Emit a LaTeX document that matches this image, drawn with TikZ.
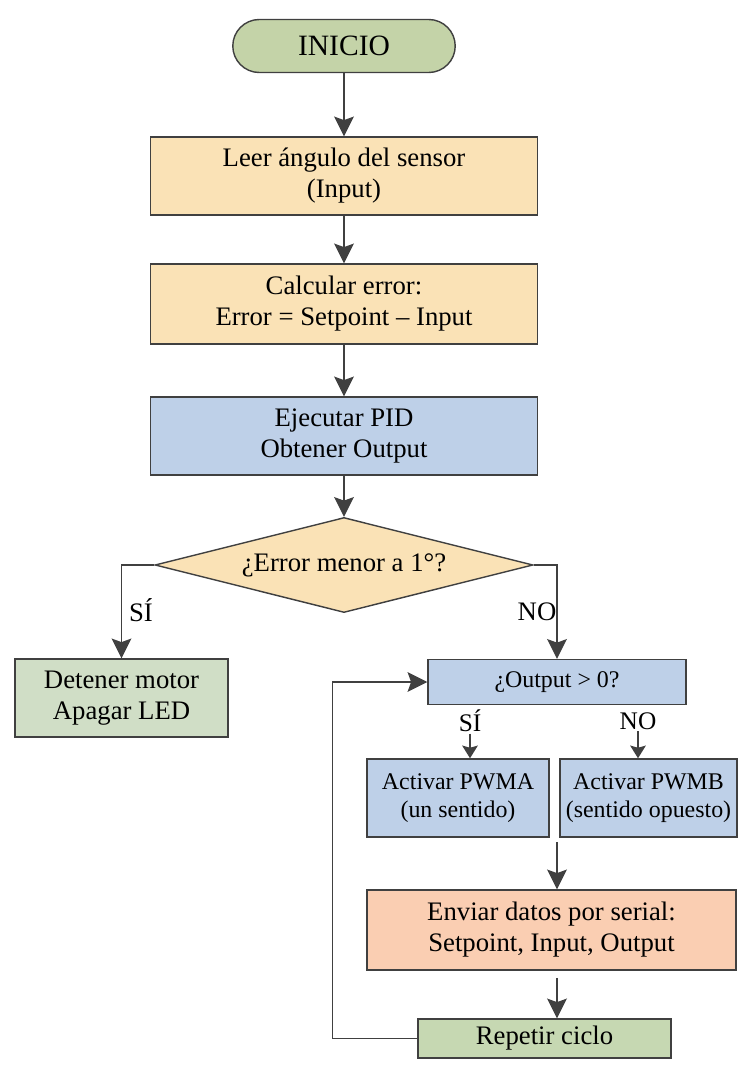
\documentclass[tikz,border=0pt]{standalone}
\usepackage{fontspec}
\setmainfont{Liberation Serif}
\usetikzlibrary{shapes.geometric,shapes.misc,arrows.meta,positioning}

\definecolor{startgreen}{HTML}{C4D3A8}
\definecolor{stepyellow}{HTML}{FAE2B6}
\definecolor{stepblue}{HTML}{BED0E8}
\definecolor{steporange}{HTML}{FACEB2}
\definecolor{stopgreen}{HTML}{D0DEC6}
\definecolor{loopgreen}{HTML}{C6D8B2}
\definecolor{edge}{HTML}{404040}

\tikzset{
  box/.style={draw=edge, line width=1pt, rectangle, align=center,
    inner sep=2pt, font=\fontsize{19}{22}\selectfont},
  smallbox/.style={box, font=\fontsize{17}{20}\selectfont},
  lbl/.style={inner sep=1pt, font=\fontsize{19}{22}\selectfont},
  smalllbl/.style={inner sep=1pt, font=\fontsize{18}{21}\selectfont},
  flow/.style={draw=edge, line width=1.4pt, -{Stealth[length=14pt,width=14pt,inset=2.5pt]}},
  shortflow/.style={draw=edge, line width=1.4pt, -{Stealth[length=9pt,width=11pt,inset=1.5pt]}},
}

\begin{document}
\begin{tikzpicture}[x=0.025cm, y=-0.025cm]
  \useasboundingbox (0,0) rectangle (739,1071);

  % main column
  \node[box, rounded rectangle, fill=startgreen, minimum width=5.7cm,
        minimum height=1.325cm, font=\fontsize{21}{24}\selectfont] (inicio) at (344,46) {INICIO};
  \node[box, fill=stepyellow, minimum width=9.675cm, minimum height=1.95cm] (leer) at (344,176)
    {Leer ángulo del sensor\\(Input)};
  \node[box, fill=stepyellow, minimum width=9.675cm, minimum height=2cm] (calc) at (344,304)
    {Calcular error:\\Error = Setpoint -- Input};
  \node[box, fill=stepblue, minimum width=9.675cm, minimum height=1.95cm] (pid) at (344,436)
    {Ejecutar PID\\Obtener Output};
  \node[box, diamond, aspect=4, fill=stepyellow, minimum width=9.45cm, minimum height=2.375cm,
        inner sep=0pt] (dec) at (344,565) {¿Error menor a 1°?};

  % branches
  \node[box, fill=stopgreen, minimum width=5.325cm, minimum height=1.95cm] (detener) at (121.5,698)
    {Detener motor\\Apagar LED};
  \node[smallbox, fill=stepblue, minimum width=6.45cm, minimum height=1.125cm] (output) at (557,682)
    {¿Output > 0?};
  \node[smallbox, fill=stepblue, minimum width=4.55cm, minimum height=1.95cm] (pwma) at (458,798)
    {Activar PWMA\\(un sentido)};
  \node[smallbox, fill=stepblue, minimum width=4.425cm, minimum height=1.95cm] (pwmb) at (648.5,798)
    {Activar PWMB\\(sentido opuesto)};
  \node[box, fill=steporange, minimum width=9.225cm, minimum height=2cm] (enviar) at (551.5,930)
    {Enviar datos por serial:\\Setpoint, Input, Output};
  \node[box, fill=loopgreen, minimum width=6.325cm, minimum height=0.975cm] (repetir) at (544.5,1038.5)
    {Repetir ciclo};

  % labels
  \node[lbl] (si1) at (141,610) {SÍ};
  \node[lbl] (no1) at (537,612) {NO};
  \node[smalllbl] (si2) at (470,721) {SÍ};
  \node[smalllbl] (no2) at (638,721) {NO};
  \coordinate (join) at (557,842);

  % connectors
  \draw[flow] (inicio) -- (leer);
  \draw[flow] (leer) -- (calc);
  \draw[flow] (calc) -- (pid);
  \draw[flow] (pid) -- (dec);
  \draw[flow] (dec.west) -| (detener.north);
  \draw[flow] (dec.east) -| (output.north);
  \draw[shortflow] (si2.south) -- (si2.south |- pwma.north);
  \draw[shortflow] (no2.south) -- (no2.south |- pwmb.north);
  \draw[flow] (join) -- (join |- enviar.north);
  \draw[flow] ([yshift=-5]join |- enviar.south) -- (join |- repetir.north);
  \draw[flow, line width=1pt] (repetir.west) -- ++(-85,0) |- (output.west);
\end{tikzpicture}
\end{document}
